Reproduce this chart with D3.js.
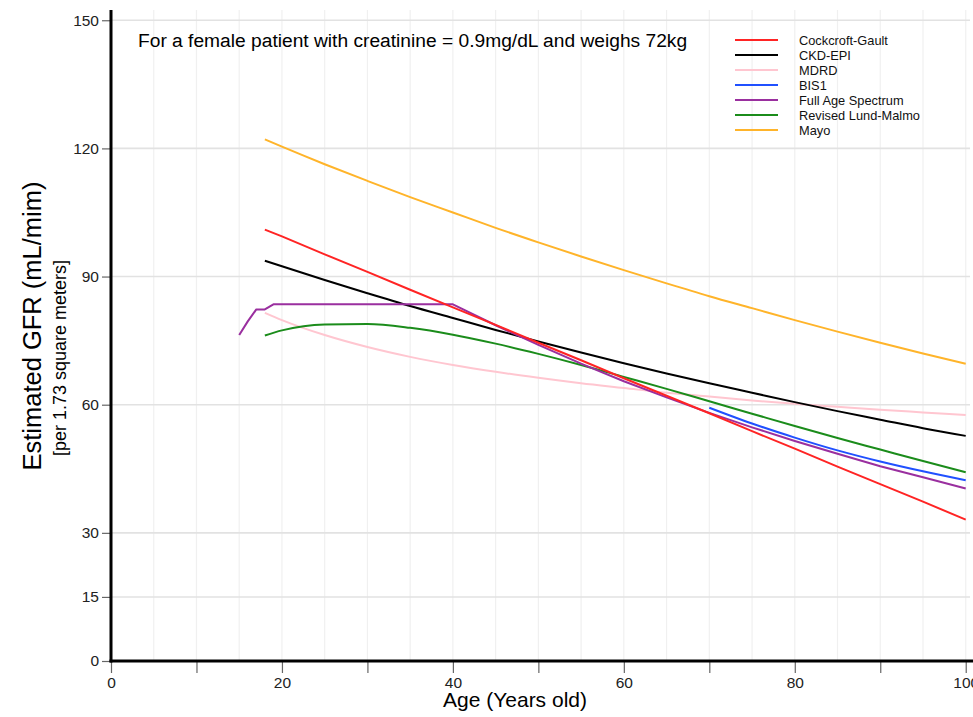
<!DOCTYPE html>
<html>
<head>
<meta charset="utf-8">
<script src="https://cdn.jsdelivr.net/npm/d3@7"></script>
<style>
  html, body { margin: 0; padding: 0; background: #fff; }
  svg { display: block; font-family: "Liberation Sans", Arial, Helvetica, sans-serif; }
</style>
</head>
<body>
<svg id="chart" width="973" height="717"></svg>
<script>
// ---- data ----
const seriesNames = ["Cockcroft-Gault", "CKD-EPI", "MDRD", "BIS1", "Full Age Spectrum", "Revised Lund-Malmo", "Mayo"];
const seriesColors = ["#ff2424", "#000000", "#ffc6d0", "#2050ff", "#9a2f9f", "#1b8c1b", "#ffb42a"];

const agesAdult = [18, 20, 25, 30, 35, 40, 45, 50, 55, 60, 65, 70, 75, 80, 85, 90, 95, 100];
const cockcroftGault = [101.0, 99.4, 95.2, 91.1, 86.9, 82.8, 78.7, 74.5, 70.4, 66.2, 62.1, 58.0, 53.8, 49.7, 45.5, 41.4, 37.3, 33.1];
const ckdEpi = [93.7, 92.4, 89.2, 86.1, 83.1, 80.3, 77.5, 74.8, 72.2, 69.7, 67.3, 65.0, 62.8, 60.6, 58.5, 56.5, 54.5, 52.7];
const mdrd = [81.5, 79.8, 76.3, 73.5, 71.2, 69.3, 67.7, 66.3, 65.0, 63.9, 62.8, 61.9, 61.0, 60.2, 59.5, 58.8, 58.2, 57.6];
const lundMalmo = [76.2, 77.4, 78.8, 78.9, 78.0, 76.4, 74.3, 71.9, 69.3, 66.5, 63.7, 60.8, 57.9, 55.0, 52.2, 49.5, 46.8, 44.2];
const mayo = [122.1, 120.4, 116.3, 112.4, 108.6, 105.0, 101.4, 98.0, 94.7, 91.5, 88.4, 85.4, 82.6, 79.8, 77.1, 74.5, 72.0, 69.6];

const agesBis = [70, 75, 80, 85, 90, 95, 100];
const bis1 = [59.3, 55.6, 52.3, 49.3, 46.7, 44.4, 42.3];

const agesFas = [15, 16, 17, 18, 19, 20, 25, 30, 35, 40, 45, 50, 55, 60, 65, 70, 75, 80, 85, 90, 95, 100];
const fullAgeSpectrum = [76.3, 79.5, 82.3, 82.3, 83.5, 83.5, 83.5, 83.5, 83.5, 83.5, 78.6, 74.0, 69.6, 65.5, 61.7, 58.1, 54.7, 51.5, 48.5, 45.6, 43.0, 40.4];

const yTicks = [0, 15, 30, 60, 90, 120, 150];
const xTicks = [0, 10, 20, 30, 40, 50, 60, 70, 80, 90, 100];
const xLabelTicks = [0, 20, 40, 60, 80, 100];
const xGrid = d3.range(0, 101, 5);

const annotation = "For a female patient with creatinine = 0.9mg/dL and weighs 72kg";
const yTitle = "Estimated GFR (mL/mim)";
const ySubTitle = "[per 1.73 square meters]";
const xTitle = "Age (Years old)";

// ---- build series ----
const zip = (ages, vals) => ages.map((a, i) => ({age: a, v: vals[i]}));
const series = [
  {name: seriesNames[0], color: seriesColors[0], data: zip(agesAdult, cockcroftGault), curve: d3.curveLinear},
  {name: seriesNames[1], color: seriesColors[1], data: zip(agesAdult, ckdEpi), curve: d3.curveMonotoneX},
  {name: seriesNames[2], color: seriesColors[2], data: zip(agesAdult, mdrd), curve: d3.curveMonotoneX},
  {name: seriesNames[3], color: seriesColors[3], data: zip(agesBis, bis1), curve: d3.curveMonotoneX},
  {name: seriesNames[4], color: seriesColors[4], data: zip(agesFas, fullAgeSpectrum), curve: d3.curveLinear},
  {name: seriesNames[5], color: seriesColors[5], data: zip(agesAdult, lundMalmo), curve: d3.curveMonotoneX},
  {name: seriesNames[6], color: seriesColors[6], data: zip(agesAdult, mayo), curve: d3.curveMonotoneX}
];
// draw order: pink underneath
const drawOrder = [2, 6, 1, 5, 3, 4, 0];

// ---- layout ----
const svg = d3.select("#chart");
const pLeft = 111, pRight = 970, pTop = 10, pBottom = 661;
const x = d3.scaleLinear().domain([0, 100.5]).range([pLeft, pRight]);
const y = d3.scaleLinear().domain([0, 152.4]).range([pBottom, pTop]);

// vertical faint gridlines
svg.append("g").selectAll("line").data(xGrid).join("line")
  .attr("x1", d => x(d)).attr("x2", d => x(d))
  .attr("y1", pTop).attr("y2", pBottom)
  .attr("stroke", "#f0f0f0").attr("stroke-width", 1.2);

// horizontal gridlines
svg.append("g").selectAll("line").data(yTicks).join("line")
  .attr("x1", pLeft).attr("x2", pRight)
  .attr("y1", d => y(d)).attr("y2", d => y(d))
  .attr("stroke", "#e2e2e2").attr("stroke-width", 1.6);

// lines
svg.append("clipPath").attr("id", "clip").append("rect")
  .attr("x", pLeft).attr("y", pTop).attr("width", pRight - pLeft).attr("height", pBottom - pTop);
const gLines = svg.append("g").attr("clip-path", "url(#clip)");
drawOrder.forEach(i => {
  const s = series[i];
  gLines.append("path")
    .datum(s.data)
    .attr("fill", "none")
    .attr("stroke", s.color)
    .attr("stroke-width", 2)
    .attr("stroke-linejoin", "round")
    .attr("d", d3.line().x(d => x(d.age)).y(d => y(d.v)).curve(s.curve));
});

// axes
const yAxis = d3.axisLeft(y).tickValues(yTicks).tickSize(8).tickPadding(3).tickFormat(d3.format("d"));
const gy = svg.append("g").attr("transform", `translate(${pLeft - 1},0)`).call(yAxis);
gy.select(".domain").remove();
gy.selectAll(".tick line").attr("stroke", "#666").attr("stroke-width", 1.2);
gy.selectAll(".tick text").attr("font-size", 15.5).attr("fill", "#222")
  .attr("font-family", "Liberation Sans, Arial, sans-serif");

const xAxis = d3.axisBottom(x).tickValues(xTicks).tickSize(11).tickPadding(4)
  .tickFormat(d => xLabelTicks.includes(d) ? d : "");
const gx = svg.append("g").attr("transform", `translate(0,${pBottom + 1})`).call(xAxis);
gx.select(".domain").remove();
gx.selectAll(".tick line").attr("stroke", "#666").attr("stroke-width", 1.2);
gx.selectAll(".tick text").attr("font-size", 15.5).attr("fill", "#222")
  .attr("font-family", "Liberation Sans, Arial, sans-serif");

// thick axis lines
svg.append("line").attr("x1", pLeft).attr("x2", pLeft).attr("y1", pTop).attr("y2", pBottom + 1.5)
  .attr("stroke", "#000").attr("stroke-width", 3);
svg.append("line").attr("x1", pLeft - 1.5).attr("x2", 973).attr("y1", pBottom).attr("y2", pBottom)
  .attr("stroke", "#000").attr("stroke-width", 3);

// annotation
svg.append("text").attr("x", 138).attr("y", 47).attr("font-size", 19.2).attr("fill", "#000")
  .text(annotation);

// legend
const legend = svg.append("g");
series.forEach((s, i) => {
  const ly = 40 + i * 15;
  legend.append("line").attr("x1", 735).attr("x2", 778).attr("y1", ly).attr("y2", ly)
    .attr("stroke", s.color).attr("stroke-width", 2);
  legend.append("text").attr("x", 799).attr("y", ly + 4.5).attr("font-size", 12.8).attr("fill", "#111")
    .text(s.name);
});

// axis titles
svg.append("text").attr("transform", "translate(41,326) rotate(-90)")
  .attr("text-anchor", "middle").attr("font-size", 25.5).attr("fill", "#000").text(yTitle);
svg.append("text").attr("transform", "translate(66,358) rotate(-90)")
  .attr("text-anchor", "middle").attr("font-size", 18).attr("fill", "#000").text(ySubTitle);
svg.append("text").attr("x", 515).attr("y", 707).attr("text-anchor", "middle")
  .attr("font-size", 21).attr("fill", "#000").text(xTitle);
</script>
</body>
</html>
